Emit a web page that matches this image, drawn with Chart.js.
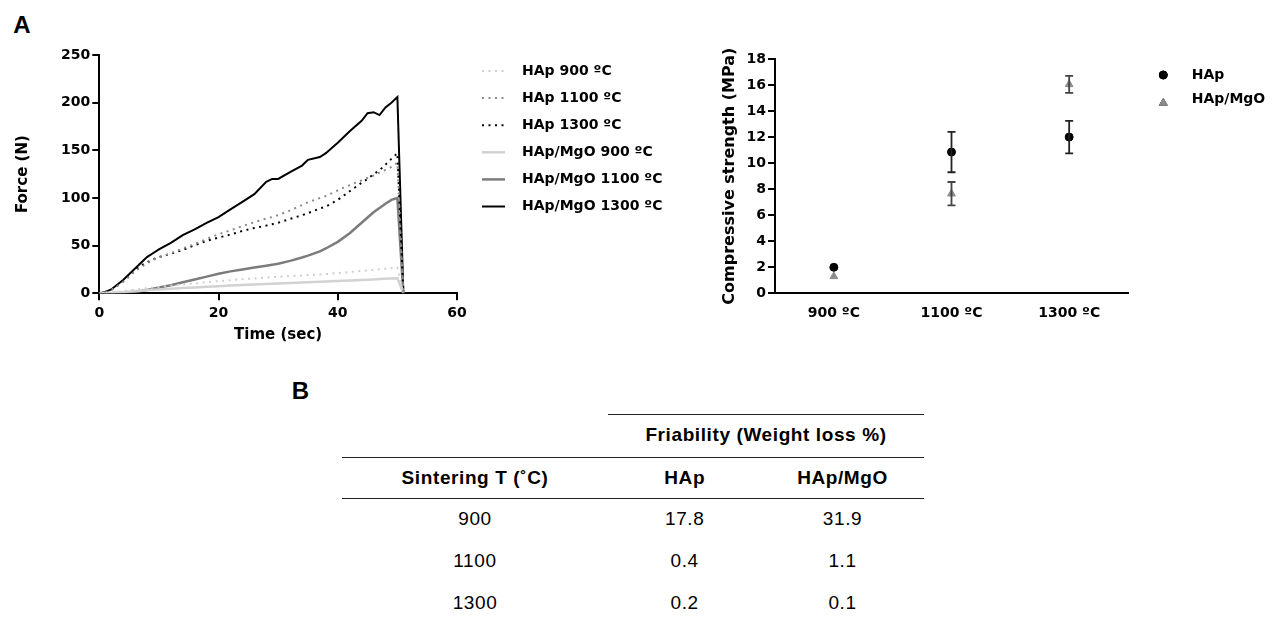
<!DOCTYPE html>
<html>
<head>
<meta charset="utf-8">
<script src="https://cdn.jsdelivr.net/npm/chart.js@4.4.1/dist/chart.umd.min.js"></script>
<style>
  html, body { margin: 0; padding: 0; background: #fff; }
  body { width: 1278px; height: 619px; position: relative; overflow: hidden; font-family: "Liberation Sans", Arial, sans-serif; color: #000; }
  canvas { position: absolute; }
  .lbl { position: absolute; transform: translate(-50%, -50%); line-height: 1; white-space: nowrap; }
  .panel { font-weight: bold; font-size: 24px; }
  .cell { font-size: 19px; letter-spacing: 0.6px; }
  .head { font-weight: bold; }
  .rule { position: absolute; height: 1.6px; background: #222; }
</style>
</head>
<body>
<canvas id="forceChart" width="700" height="320" style="left:0;top:40px"></canvas>
<canvas id="strengthChart" width="578" height="320" style="left:700px;top:40px"></canvas>
<div id="table"></div>
<script>
// ---- panel A, left: force vs time ----
const timeSec = [0, 1, 2, 3, 4, 5, 6, 7, 8, 9, 10, 12, 14, 16, 18, 20, 22, 24, 26, 28, 29, 30, 32, 34, 35, 37, 38, 40, 42, 44, 45, 46, 47, 48, 49, 50, 51];
const hap900 = [0, 0.3, 0.8, 1.5, 2.3, 3, 3.8, 4.6, 5.3, 6, 6.7, 8, 9.3, 10.5, 11.7, 12.8, 13.8, 14.8, 15.6, 16.5, 16.9, 17.3, 18, 18.7, 19.1, 19.8, 20.2, 21.2, 22.3, 23.4, 24, 24.6, 25.2, 25.8, 26.5, 27, 0];
const hap1100 = [0, 1, 3.5, 7.5, 12, 17.5, 23, 27.5, 31.5, 35, 38, 42, 47, 51.5, 57, 62, 66, 70.5, 74.5, 78.5, 80, 82, 87, 92.5, 95.5, 100, 102, 108, 113.5, 118.5, 121, 123.5, 126.5, 129.5, 132.5, 137, 0];
const hap1300 = [0, 1, 4, 8, 13, 19, 24.5, 29, 32.5, 35.5, 38, 41.5, 45.5, 50.5, 55, 58.5, 61.5, 65.5, 68.5, 71, 72.5, 74, 78, 82, 84, 89, 91, 98, 107, 116, 120, 125, 129, 135, 141, 147, 0];
const mgo900 = [0, 0.2, 0.5, 0.9, 1.3, 1.8, 2.3, 2.7, 3.2, 3.6, 4, 4.8, 5.5, 6.2, 6.9, 7.5, 8.1, 8.7, 9.2, 9.7, 10, 10.2, 10.8, 11.3, 11.6, 12.1, 12.4, 12.9, 13.5, 14, 14.3, 14.6, 14.9, 15.2, 15.5, 15.8, 0];
const mgo1100 = [0, 0, 0.1, 0.3, 0.6, 1, 1.5, 2.5, 3.5, 4.8, 6, 8.5, 11.5, 14.5, 17.5, 20.5, 23, 25, 27, 29, 30, 31, 34, 37.5, 39.5, 44, 47, 54, 63, 74, 79.5, 85, 89.5, 94, 98, 100, 0];
const mgo1300 = [0, 1.5, 4, 9, 14, 20, 26, 32, 38, 42, 46, 53, 61, 67, 74, 80, 88, 96, 104, 117, 120, 120, 127, 134, 140, 143, 147, 158, 170, 181, 189, 190, 187, 195, 200, 206, 0];
const forceLabels = ['HAp 900 ºC', 'HAp 1100 ºC', 'HAp 1300 ºC', 'HAp/MgO 900 ºC', 'HAp/MgO 1100 ºC', 'HAp/MgO 1300 ºC'];

// ---- panel A, right: compressive strength ----
const tempLabels = ['900 ºC', '1100 ºC', '1300 ºC'];
const hapStrength = [2.0, 10.85, 12.0];
const hapStrengthErr = [0, 1.55, 1.25];
const mgoStrength = [1.3, 7.65, 16.05];
const mgoStrengthErr = [0, 0.9, 0.65];

// ---- panel B: friability table ----
const sinterTemps = ['900', '1100', '1300'];
const friabHAp = ['17.8', '0.4', '0.2'];
const friabMgO = ['31.9', '1.1', '0.1'];

Chart.defaults.font.family = "'DejaVu Sans', sans-serif";
Chart.defaults.font.weight = 'bold';
Chart.defaults.font.size = 14;
Chart.defaults.color = '#000';

const forceValues = [hap900, hap1100, hap1300, mgo900, mgo1100, mgo1300];
const lineStyles = [
  { color: '#cfcfcf', width: 2, dash: [2, 4.5] },
  { color: '#8a8a8a', width: 2, dash: [2, 4.5] },
  { color: '#000000', width: 2, dash: [2, 4.5] },
  { color: '#d2d2d2', width: 2.5, dash: [] },
  { color: '#7c7c7c', width: 2.5, dash: [] },
  { color: '#000000', width: 2, dash: [] }
];

const lineLegend = {
  id: 'lineLegend',
  afterDraw(chart) {
    const ctx = chart.ctx;
    ctx.save();
    chart.data.datasets.forEach((ds, i) => {
      const y = 31 + i * 27.1;
      ctx.beginPath();
      ctx.setLineDash(ds.borderDash);
      ctx.strokeStyle = ds.borderColor;
      ctx.lineWidth = ds.borderWidth;
      ctx.moveTo(482, y);
      ctx.lineTo(505, y);
      ctx.stroke();
      ctx.setLineDash([]);
      ctx.fillStyle = '#000';
      ctx.font = "bold 14px 'DejaVu Sans'";
      ctx.textBaseline = 'middle';
      ctx.fillText(ds.label, 522, y);
    });
    ctx.restore();
  }
};

new Chart(document.getElementById('forceChart'), {
  type: 'line',
  data: {
    datasets: forceLabels.map((label, k) => ({
      label: label,
      data: timeSec.map((t, i) => ({ x: t, y: forceValues[k][i] })),
      borderColor: lineStyles[k].color,
      borderWidth: lineStyles[k].width,
      borderDash: lineStyles[k].dash,
      pointRadius: 0,
      tension: 0,
      fill: false
    }))
  },
  options: {
    responsive: false,
    animation: false,
    layout: { padding: { left: 0, top: 15, right: 243, bottom: 0 } },
    plugins: { legend: { display: false }, tooltip: { enabled: false } },
    scales: {
      x: {
        type: 'linear', min: 0, max: 60,
        ticks: { stepSize: 20, padding: 5 },
        grid: { drawOnChartArea: false, tickLength: 7, color: '#000', lineWidth: 2 },
        border: { color: '#000', width: 2 },
        title: { display: true, text: 'Time (sec)', font: { size: 15 }, padding: { top: 0, bottom: 16 } },
        afterFit: s => { s.height = 66.7; }
      },
      y: {
        min: 0, max: 250,
        ticks: { stepSize: 50, padding: 2 },
        grid: { drawOnChartArea: false, tickLength: 7, color: '#000', lineWidth: 2 },
        border: { color: '#000', width: 2 },
        title: { display: true, text: 'Force (N)', font: { size: 15 }, padding: { top: 14, bottom: 0 } },
        afterFit: s => { s.width = 99.3; }
      }
    }
  },
  plugins: [lineLegend]
});

const errorBars = {
  id: 'errorBars',
  afterDatasetsDraw(chart) {
    const ctx = chart.ctx;
    const ys = chart.scales.y;
    const errs = [hapStrengthErr, mgoStrengthErr];
    ctx.save();
    chart.data.datasets.forEach((ds, i) => {
      const meta = chart.getDatasetMeta(i);
      meta.data.forEach((pt, j) => {
        const e = errs[i][j];
        if (!e) return;
        const top = ys.getPixelForValue(ds.data[j] + e);
        const bot = ys.getPixelForValue(ds.data[j] - e);
        ctx.strokeStyle = i === 0 ? '#222' : '#444';
        ctx.lineWidth = 1.8;
        ctx.beginPath();
        ctx.moveTo(pt.x, top); ctx.lineTo(pt.x, bot);
        ctx.moveTo(pt.x - 4, top); ctx.lineTo(pt.x + 4, top);
        ctx.moveTo(pt.x - 4, bot); ctx.lineTo(pt.x + 4, bot);
        ctx.stroke();
      });
    });
    ctx.restore();
  }
};

const markerLegend = {
  id: 'markerLegend',
  afterDraw(chart) {
    const ctx = chart.ctx;
    const rows = [35, 59];
    ctx.save();
    chart.data.datasets.forEach((ds, i) => {
      const y = rows[i];
      Chart.helpers.drawPoint(ctx, {
        pointStyle: ds.pointStyle, radius: ds.pointRadius, borderWidth: 1, rotation: 0
      }, 463.3, i === 1 ? y + 4 : y);
      ctx.fillStyle = ds.backgroundColor;
      ctx.strokeStyle = ds.borderColor;
      ctx.fill(); ctx.stroke();
      ctx.fillStyle = '#000';
      ctx.font = "bold 14px 'DejaVu Sans'";
      ctx.textBaseline = 'middle';
      ctx.fillText(ds.label, 491.7, y);
    });
    ctx.restore();
  }
};

new Chart(document.getElementById('strengthChart'), {
  type: 'line',
  data: {
    labels: tempLabels,
    datasets: [
      { label: 'HAp', data: hapStrength, showLine: false, pointStyle: 'circle', pointRadius: 4,
        backgroundColor: '#000', borderColor: '#000', borderWidth: 1 },
      { label: 'HAp/MgO', data: mgoStrength, showLine: false, pointStyle: 'triangle', pointRadius: 4.5,
        backgroundColor: '#8c8c8c', borderColor: '#8c8c8c', borderWidth: 1 }
    ]
  },
  options: {
    responsive: false,
    animation: false,
    layout: { padding: { left: 0, top: 19, right: 150, bottom: 0 } },
    plugins: { legend: { display: false }, tooltip: { enabled: false } },
    scales: {
      x: {
        type: 'category', offset: true,
        ticks: { padding: 12 },
        grid: { display: false, drawTicks: false },
        border: { display: true, color: '#000', width: 2 },
        afterFit: s => { s.height = 66.7; }
      },
      y: {
        min: 0, max: 18,
        ticks: { stepSize: 2, padding: 2 },
        grid: { drawOnChartArea: false, tickLength: 7, color: '#000', lineWidth: 2 },
        border: { color: '#000', width: 2 },
        title: { display: true, text: 'Compressive strength (MPa)', font: { size: 16 }, padding: { top: 20, bottom: 0 } },
        afterFit: s => { s.width = 75; }
      }
    }
  },
  plugins: [errorBars, markerLegend]
});

// ---- panel labels and table ----
const holder = document.getElementById('table');
function put(text, x, y, cls) {
  const d = document.createElement('div');
  d.className = 'lbl ' + cls;
  d.textContent = text;
  d.style.left = x + 'px';
  d.style.top = y + 'px';
  holder.appendChild(d);
}
function rule(x1, x2, y) {
  const d = document.createElement('div');
  d.className = 'rule';
  d.style.left = x1 + 'px';
  d.style.width = (x2 - x1) + 'px';
  d.style.top = (y - 0.8) + 'px';
  holder.appendChild(d);
}
put('A', 22, 25, 'panel');
put('B', 300.5, 391, 'panel');

const colX = [475, 684.7, 842.5];
const rowY = [518, 560, 602];
rule(608, 924, 414.3);
rule(342, 924, 457.3);
rule(342, 924, 498.3);
put('Friability (Weight loss %)', 766, 433.5, 'cell head');
put('Sintering T (˚C)', colX[0], 476.7, 'cell head');
put('HAp', colX[1], 476.7, 'cell head');
put('HAp/MgO', colX[2], 476.7, 'cell head');
sinterTemps.forEach((t, i) => {
  put(t, colX[0], rowY[i], 'cell');
  put(friabHAp[i], colX[1], rowY[i], 'cell');
  put(friabMgO[i], colX[2], rowY[i], 'cell');
});
</script>
</body>
</html>
